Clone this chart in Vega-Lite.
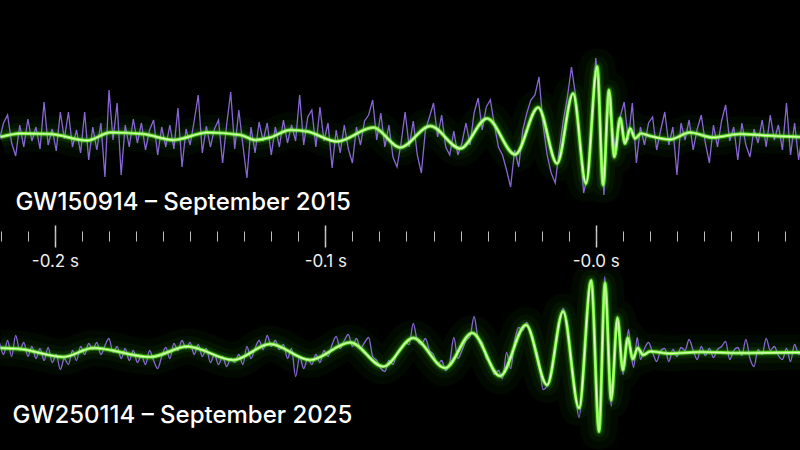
{
"$schema":"https://vega.github.io/schema/vega-lite/v6.json",
"background":"#000000","padding":0,"spacing":45,"bounds":"flush",
"config":{"view":{"stroke":null}},
"datasets":{
"topSig":[{"t":-0.2201,"h":-0.04},{"t":-0.2127,"h":0.03},{"t":-0.2017,"h":0.02},{"t":-0.1880,"h":-0.11},{"t":-0.1795,"h":0.05},{"t":-0.1673,"h":0.02},{"t":-0.1562,"h":-0.10},{"t":-0.1436,"h":0.05},{"t":-0.1314,"h":0},{"t":-0.1259,"h":-0.10},{"t":-0.1204,"h":-0.05},{"t":-0.1130,"h":0.10},{"t":-0.1067,"h":0.07},{"t":-0.0956,"h":-0.13},{"t":-0.0823,"h":0.15},{"t":-0.0723,"h":-0.25},{"t":-0.0612,"h":0.18},{"t":-0.0501,"h":-0.27},{"t":-0.0402,"h":0.33},{"t":-0.0298,"h":-0.39},{"t":-0.0213,"h":0.55},{"t":-0.0143,"h":-0.57},{"t":-0.0084,"h":0.83},{"t":-0.0036,"h":-0.97},{"t":0.0005,"h":1.37},{"t":0.0027,"h":-1.0},{"t":0.0049,"h":0.90},{"t":0.0068,"h":-0.44},{"t":0.0090,"h":0.34},{"t":0.0108,"h":-0.17},{"t":0.0127,"h":0.13},{"t":0.0145,"h":-0.07},{"t":0.0167,"h":0.03},{"t":0.0201,"h":-0.02},{"t":0.0275,"h":-0.09},{"t":0.0348,"h":0.05},{"t":0.0433,"h":-0.05},{"t":0.0533,"h":0.02},{"t":0.0626,"h":-0.01},{"t":0.0755,"h":-0.04}],
"botSig":[{"t":-0.2201,"h":0.09},{"t":-0.2127,"h":0.07},{"t":-0.1969,"h":-0.09},{"t":-0.1858,"h":0.09},{"t":-0.1647,"h":-0.09},{"t":-0.1510,"h":0.12},{"t":-0.1340,"h":-0.15},{"t":-0.1204,"h":0.17},{"t":-0.1056,"h":-0.15},{"t":-0.0908,"h":0.20},{"t":-0.0786,"h":-0.28},{"t":-0.0675,"h":0.29},{"t":-0.0557,"h":-0.31},{"t":-0.0457,"h":0.39},{"t":-0.0354,"h":-0.47},{"t":-0.0258,"h":0.55},{"t":-0.0180,"h":-0.65},{"t":-0.0121,"h":0.82},{"t":-0.0062,"h":-1.11},{"t":-0.0017,"h":1.44},{"t":0.0012,"h":-1.58},{"t":0.0034,"h":1.39},{"t":0.0057,"h":-0.95},{"t":0.0080,"h":0.69},{"t":0.0100,"h":-0.35},{"t":0.0118,"h":0.29},{"t":0.0137,"h":-0.13},{"t":0.0155,"h":0.09},{"t":0.0175,"h":-0.05},{"t":0.0201,"h":0.02},{"t":0.0275,"h":-0.02},{"t":0.0385,"h":0.01},{"t":0.0533,"h":-0.01},{"t":0.0755,"h":0}],
"topNoise":[{"t":-0.2205,"h":-0.10},{"t":-0.2190,"h":0.24},{"t":-0.2175,"h":0.40},{"t":-0.2160,"h":-0.16},{"t":-0.2145,"h":-0.42},{"t":-0.2130,"h":0.20},{"t":-0.2115,"h":-0.24},{"t":-0.2100,"h":0.32},{"t":-0.2085,"h":-0.12},{"t":-0.2070,"h":0.16},{"t":-0.2055,"h":-0.28},{"t":-0.2040,"h":0.66},{"t":-0.2025,"h":-0.20},{"t":-0.2010,"h":0.12},{"t":-0.1995,"h":-0.32},{"t":-0.1980,"h":0.46},{"t":-0.1965,"h":-0.08},{"t":-0.1950,"h":0.46},{"t":-0.1935,"h":-0.24},{"t":-0.1920,"h":0.10},{"t":-0.1905,"h":-0.36},{"t":-0.1890,"h":0.46},{"t":-0.1875,"h":-0.50},{"t":-0.1860,"h":0.16},{"t":-0.1845,"h":-0.30},{"t":-0.1830,"h":0.24},{"t":-0.1815,"h":-0.84},{"t":-0.1800,"h":0.90},{"t":-0.1785,"h":-0.10},{"t":-0.1770,"h":0.64},{"t":-0.1755,"h":-0.80},{"t":-0.1740,"h":0.20},{"t":-0.1725,"h":-0.24},{"t":-0.1710,"h":0.32},{"t":-0.1695,"h":-0.16},{"t":-0.1680,"h":0.24},{"t":-0.1665,"h":-0.30},{"t":-0.1650,"h":0.10},{"t":-0.1635,"h":0.30},{"t":-0.1620,"h":-0.40},{"t":-0.1605,"h":0.16},{"t":-0.1590,"h":-0.24},{"t":-0.1575,"h":0.20},{"t":-0.1560,"h":-0.28},{"t":-0.1545,"h":0.54},{"t":-0.1530,"h":-0.64},{"t":-0.1515,"h":0.12},{"t":-0.1500,"h":-0.20},{"t":-0.1485,"h":0.28},{"t":-0.1470,"h":0.80},{"t":-0.1455,"h":-0.36},{"t":-0.1440,"h":0.18},{"t":-0.1425,"h":-0.24},{"t":-0.1410,"h":0.12},{"t":-0.1395,"h":0.30},{"t":-0.1380,"h":-0.56},{"t":-0.1365,"h":0.20},{"t":-0.1350,"h":0.86},{"t":-0.1335,"h":-0.28},{"t":-0.1320,"h":0.50},{"t":-0.1305,"h":-0.20},{"t":-0.1290,"h":-0.86},{"t":-0.1275,"h":0.16},{"t":-0.1260,"h":-0.36},{"t":-0.1245,"h":0.26},{"t":-0.1230,"h":-0.12},{"t":-0.1215,"h":0.24},{"t":-0.1200,"h":-0.40},{"t":-0.1185,"h":0.16},{"t":-0.1170,"h":-0.24},{"t":-0.1155,"h":0.30},{"t":-0.1140,"h":-0.16},{"t":-0.1125,"h":0.20},{"t":-0.1110,"h":-0.12},{"t":-0.1095,"h":0.80},{"t":-0.1080,"h":-0.20},{"t":-0.1065,"h":0.36},{"t":-0.1050,"h":0.50},{"t":-0.1035,"h":-0.24},{"t":-0.1020,"h":0.56},{"t":-0.1005,"h":-0.12},{"t":-0.0990,"h":0.24},{"t":-0.0975,"h":-0.66},{"t":-0.0960,"h":0.10},{"t":-0.0945,"h":-0.36},{"t":-0.0930,"h":0.20},{"t":-0.0915,"h":-0.28},{"t":-0.0900,"h":-0.56},{"t":-0.0885,"h":0.16},{"t":-0.0870,"h":-0.20},{"t":-0.0855,"h":0.28},{"t":-0.0840,"h":0.40},{"t":-0.0825,"h":0.70},{"t":-0.0810,"h":-0.10},{"t":-0.0795,"h":0.44},{"t":-0.0780,"h":-0.24},{"t":-0.0765,"h":0.20},{"t":-0.0750,"h":-0.44},{"t":-0.0735,"h":-0.64},{"t":-0.0720,"h":-0.16},{"t":-0.0705,"h":0.46},{"t":-0.0690,"h":-0.24},{"t":-0.0675,"h":0.28},{"t":-0.0660,"h":-0.40},{"t":-0.0645,"h":-0.76},{"t":-0.0630,"h":0.10},{"t":-0.0615,"h":0.36},{"t":-0.0600,"h":0.64},{"t":-0.0585,"h":-0.04},{"t":-0.0570,"h":0.40},{"t":-0.0555,"h":-0.24},{"t":-0.0540,"h":-0.40},{"t":-0.0525,"h":0.08},{"t":-0.0510,"h":-0.40},{"t":-0.0495,"h":-0.16},{"t":-0.0480,"h":0.24},{"t":-0.0465,"h":-0.20},{"t":-0.0450,"h":0.44},{"t":-0.0435,"h":0.74},{"t":-0.0420,"h":0.10},{"t":-0.0405,"h":0.56},{"t":-0.0390,"h":0.70},{"t":-0.0375,"h":0.20},{"t":-0.0360,"h":-0.24},{"t":-0.0345,"h":-0.40},{"t":-0.0330,"h":-0.70},{"t":-0.0315,"h":-1.04},{"t":-0.0300,"h":-0.30},{"t":-0.0285,"h":-0.64},{"t":-0.0270,"h":0.10},{"t":-0.0255,"h":0.44},{"t":-0.0240,"h":0.70},{"t":-0.0225,"h":0.80},{"t":-0.0210,"h":1.16},{"t":-0.0195,"h":0.20},{"t":-0.0180,"h":-0.40},{"t":-0.0165,"h":-0.76},{"t":-0.0150,"h":-0.96},{"t":-0.0135,"h":-0.30},{"t":-0.0120,"h":0.30},{"t":-0.0105,"h":0.76},{"t":-0.0090,"h":1.36},{"t":-0.0075,"h":0.80},{"t":-0.0060,"h":-0.10},{"t":-0.0045,"h":-1.16},{"t":-0.0030,"h":-0.80},{"t":-0.0015,"h":0.30},{"t":0.0000,"h":1.54},{"t":0.0015,"h":0.50},{"t":0.0030,"h":-1.20},{"t":0.0045,"h":0.60},{"t":0.0060,"h":0.20},{"t":0.0075,"h":-0.40},{"t":0.0090,"h":0.36},{"t":0.0105,"h":0.66},{"t":0.0120,"h":-0.10},{"t":0.0135,"h":0.64},{"t":0.0150,"h":-0.56},{"t":0.0165,"h":0.16},{"t":0.0180,"h":-0.20},{"t":0.0195,"h":0.24},{"t":0.0210,"h":0.36},{"t":0.0225,"h":-0.30},{"t":0.0240,"h":0.10},{"t":0.0255,"h":0.46},{"t":0.0270,"h":-0.20},{"t":0.0285,"h":0.16},{"t":0.0300,"h":-0.80},{"t":0.0315,"h":0.24},{"t":0.0330,"h":-0.10},{"t":0.0345,"h":0.30},{"t":0.0360,"h":-0.30},{"t":0.0375,"h":0.12},{"t":0.0390,"h":0.40},{"t":0.0405,"h":-0.16},{"t":0.0420,"h":-0.56},{"t":0.0435,"h":0.20},{"t":0.0450,"h":-0.24},{"t":0.0465,"h":0.28},{"t":0.0480,"h":0.60},{"t":0.0495,"h":-0.12},{"t":0.0510,"h":0.16},{"t":0.0525,"h":-0.50},{"t":0.0540,"h":0.24},{"t":0.0555,"h":-0.20},{"t":0.0570,"h":-0.44},{"t":0.0585,"h":0.12},{"t":0.0600,"h":-0.16},{"t":0.0615,"h":0.30},{"t":0.0630,"h":-0.24},{"t":0.0645,"h":0.40},{"t":0.0660,"h":-0.10},{"t":0.0675,"h":0.20},{"t":0.0690,"h":-0.30},{"t":0.0705,"h":0.64},{"t":0.0720,"h":-0.40},{"t":0.0735,"h":0.24},{"t":0.0750,"h":-0.50},{"t":0.0765,"h":0.10}],
"botNoise":[{"t":-0.2205,"h":0.20},{"t":-0.2190,"h":-0.04},{"t":-0.2175,"h":0.24},{"t":-0.2160,"h":-0.08},{"t":-0.2145,"h":0.34},{"t":-0.2130,"h":0.04},{"t":-0.2115,"h":0.20},{"t":-0.2100,"h":-0.08},{"t":-0.2085,"h":0.12},{"t":-0.2070,"h":-0.12},{"t":-0.2055,"h":0.08},{"t":-0.2040,"h":-0.16},{"t":-0.2025,"h":0.10},{"t":-0.2010,"h":-0.20},{"t":-0.1995,"h":-0.04},{"t":-0.1980,"h":-0.34},{"t":-0.1965,"h":-0.12},{"t":-0.1950,"h":-0.24},{"t":-0.1935,"h":0.04},{"t":-0.1920,"h":-0.16},{"t":-0.1905,"h":0.12},{"t":-0.1890,"h":-0.04},{"t":-0.1875,"h":0.18},{"t":-0.1860,"h":0.06},{"t":-0.1845,"h":0.20},{"t":-0.1830,"h":-0.04},{"t":-0.1815,"h":0.14},{"t":-0.1800,"h":0.28},{"t":-0.1785,"h":0.00},{"t":-0.1770,"h":0.12},{"t":-0.1755,"h":-0.12},{"t":-0.1740,"h":0.08},{"t":-0.1725,"h":-0.16},{"t":-0.1710,"h":0.04},{"t":-0.1695,"h":-0.20},{"t":-0.1680,"h":-0.06},{"t":-0.1665,"h":-0.24},{"t":-0.1650,"h":0.04},{"t":-0.1635,"h":-0.16},{"t":-0.1620,"h":-0.32},{"t":-0.1605,"h":-0.08},{"t":-0.1590,"h":0.10},{"t":-0.1575,"h":-0.12},{"t":-0.1560,"h":0.18},{"t":-0.1545,"h":0.04},{"t":-0.1530,"h":0.24},{"t":-0.1515,"h":0.08},{"t":-0.1500,"h":0.20},{"t":-0.1485,"h":-0.04},{"t":-0.1470,"h":0.16},{"t":-0.1455,"h":-0.08},{"t":-0.1440,"h":0.08},{"t":-0.1425,"h":-0.20},{"t":-0.1410,"h":-0.04},{"t":-0.1395,"h":-0.24},{"t":-0.1380,"h":-0.08},{"t":-0.1365,"h":-0.28},{"t":-0.1350,"h":-0.12},{"t":-0.1335,"h":-0.20},{"t":-0.1320,"h":-0.04},{"t":-0.1305,"h":-0.24},{"t":-0.1290,"h":0.12},{"t":-0.1275,"h":-0.12},{"t":-0.1260,"h":0.08},{"t":-0.1245,"h":0.24},{"t":-0.1230,"h":0.06},{"t":-0.1215,"h":0.34},{"t":-0.1200,"h":0.12},{"t":-0.1185,"h":0.24},{"t":-0.1170,"h":0.06},{"t":-0.1155,"h":0.16},{"t":-0.1140,"h":-0.12},{"t":-0.1125,"h":0.08},{"t":-0.1110,"h":-0.48},{"t":-0.1095,"h":-0.08},{"t":-0.1080,"h":-0.32},{"t":-0.1065,"h":-0.12},{"t":-0.1050,"h":-0.24},{"t":-0.1035,"h":-0.04},{"t":-0.1020,"h":-0.20},{"t":-0.1005,"h":0.04},{"t":-0.0990,"h":-0.08},{"t":-0.0975,"h":0.16},{"t":-0.0960,"h":0.32},{"t":-0.0945,"h":0.08},{"t":-0.0930,"h":0.24},{"t":-0.0915,"h":0.36},{"t":-0.0900,"h":0.12},{"t":-0.0885,"h":0.28},{"t":-0.0870,"h":0.08},{"t":-0.0855,"h":0.20},{"t":-0.0840,"h":0.30},{"t":-0.0825,"h":-0.08},{"t":-0.0810,"h":-0.16},{"t":-0.0795,"h":-0.32},{"t":-0.0780,"h":-0.38},{"t":-0.0765,"h":-0.16},{"t":-0.0750,"h":-0.24},{"t":-0.0735,"h":0.00},{"t":-0.0720,"h":0.08},{"t":-0.0705,"h":0.20},{"t":-0.0690,"h":0.16},{"t":-0.0675,"h":0.58},{"t":-0.0660,"h":0.24},{"t":-0.0645,"h":0.16},{"t":-0.0630,"h":0.28},{"t":-0.0615,"h":0.04},{"t":-0.0600,"h":-0.04},{"t":-0.0585,"h":-0.24},{"t":-0.0570,"h":-0.16},{"t":-0.0555,"h":-0.36},{"t":-0.0540,"h":-0.20},{"t":-0.0525,"h":0.30},{"t":-0.0510,"h":-0.12},{"t":-0.0495,"h":0.04},{"t":-0.0480,"h":0.24},{"t":-0.0465,"h":0.32},{"t":-0.0450,"h":0.72},{"t":-0.0435,"h":0.28},{"t":-0.0420,"h":0.20},{"t":-0.0405,"h":-0.12},{"t":-0.0390,"h":-0.20},{"t":-0.0375,"h":-0.44},{"t":-0.0360,"h":-0.36},{"t":-0.0345,"h":-0.52},{"t":-0.0330,"h":0.00},{"t":-0.0315,"h":-0.32},{"t":-0.0300,"h":0.24},{"t":-0.0285,"h":0.50},{"t":-0.0270,"h":0.44},{"t":-0.0255,"h":0.60},{"t":-0.0240,"h":0.36},{"t":-0.0225,"h":0.12},{"t":-0.0210,"h":-0.16},{"t":-0.0195,"h":-0.74},{"t":-0.0180,"h":-0.66},{"t":-0.0165,"h":-0.40},{"t":-0.0150,"h":0.10},{"t":-0.0136,"h":0.56},{"t":-0.0121,"h":0.88},{"t":-0.0106,"h":0.56},{"t":-0.0091,"h":-0.20},{"t":-0.0076,"h":-0.80},{"t":-0.0062,"h":-1.30},{"t":-0.0047,"h":-0.50},{"t":-0.0032,"h":0.80},{"t":-0.0017,"h":1.44},{"t":-0.0003,"h":0.10},{"t":0.0012,"h":-1.60},{"t":0.0023,"h":-0.20},{"t":0.0033,"h":1.52},{"t":0.0045,"h":0.20},{"t":0.0057,"h":-1.08},{"t":0.0068,"h":-0.10},{"t":0.0079,"h":0.72},{"t":0.0090,"h":0.16},{"t":0.0101,"h":-0.44},{"t":0.0112,"h":0.04},{"t":0.0121,"h":0.46},{"t":0.0130,"h":0.00},{"t":0.0140,"h":-0.30},{"t":0.0153,"h":0.30},{"t":0.0165,"h":-0.14},{"t":0.0180,"h":0.08},{"t":0.0195,"h":0.20},{"t":0.0210,"h":0.00},{"t":0.0225,"h":-0.18},{"t":0.0240,"h":0.04},{"t":0.0255,"h":0.08},{"t":0.0270,"h":-0.18},{"t":0.0285,"h":0.06},{"t":0.0300,"h":-0.08},{"t":0.0315,"h":0.10},{"t":0.0330,"h":0.04},{"t":0.0345,"h":0.26},{"t":0.0360,"h":0.04},{"t":0.0375,"h":-0.14},{"t":0.0390,"h":0.12},{"t":0.0405,"h":-0.06},{"t":0.0420,"h":0.08},{"t":0.0435,"h":-0.10},{"t":0.0450,"h":0.06},{"t":0.0465,"h":0.12},{"t":0.0480,"h":0.22},{"t":0.0495,"h":-0.14},{"t":0.0510,"h":0.04},{"t":0.0525,"h":0.10},{"t":0.0540,"h":-0.06},{"t":0.0555,"h":0.26},{"t":0.0570,"h":-0.12},{"t":0.0585,"h":-0.28},{"t":0.0600,"h":0.06},{"t":0.0615,"h":-0.04},{"t":0.0630,"h":0.28},{"t":0.0645,"h":0.04},{"t":0.0660,"h":0.12},{"t":0.0675,"h":-0.06},{"t":0.0690,"h":-0.14},{"t":0.0705,"h":0.08},{"t":0.0720,"h":-0.18},{"t":0.0735,"h":0.16},{"t":0.0750,"h":-0.04},{"t":0.0765,"h":0.06}]
},
"vconcat":[
{
"width":800,"height":225,
"encoding":{
"x":{"field":"t","type":"quantitative","scale":{"domain":[-0.2203,0.0755],"nice":false,"zero":false},"axis":null},
"y":{"field":"h","type":"quantitative","scale":{"domain":[-1.8,2.7],"nice":false,"zero":false},"axis":null}
},
"layer":[
{"data":{"name":"topSig"},"mark":{"type":"line","interpolate":"monotone","clip":true,"color":"#2fd010","strokeWidth":36,"opacity":0.045}},
{"data":{"name":"topSig"},"mark":{"type":"line","interpolate":"monotone","clip":true,"color":"#2fd010","strokeWidth":21,"opacity":0.06}},
{"data":{"name":"topSig"},"mark":{"type":"line","interpolate":"monotone","clip":true,"color":"#3ee015","strokeWidth":11,"opacity":0.1}},
{"data":{"name":"topNoise"},"mark":{"type":"line","clip":true,"color":"#8f6ce0","strokeWidth":1.3,"opacity":0.95},
"encoding":{"x":{"field":"t","type":"quantitative","scale":{"domain":[-0.2203,0.0755],"nice":false,"zero":false},
"axis":{"orient":"bottom","values":[-0.2,-0.1,0],"domain":false,"grid":false,"tickSize":22,"tickWidth":1.5,"tickColor":"#d0d0d0","labelExpr":"'-' + format(abs(datum.value), '.1f') + ' s'","labelColor":"#eeeeee","labelFont":"Inter","labelFontSize":17,"labelPadding":6,"labelFlush":false,"labelOverlap":false,"title":null}}}},
{"data":{"name":"topSig"},"mark":{"type":"line","interpolate":"monotone","clip":true,"color":"#4ef01c","strokeWidth":5.5,"opacity":0.3}},
{"data":{"name":"topSig"},"mark":{"type":"line","interpolate":"monotone","clip":true,"color":"#86ff48","strokeWidth":3,"opacity":0.95},
"encoding":{"x":{"field":"t","type":"quantitative","scale":{"domain":[-0.2203,0.0755],"nice":false,"zero":false},
"axis":{"orient":"bottom","values":[-0.22,-0.21,-0.2,-0.19,-0.18,-0.17,-0.16,-0.15,-0.14,-0.13,-0.12,-0.11,-0.1,-0.09,-0.08,-0.07,-0.06,-0.05,-0.04,-0.03,-0.02,-0.01,0,0.01,0.02,0.03,0.04,0.05,0.06,0.07],"domain":false,"grid":false,"labels":false,"tickSize":10,"tickWidth":1,"tickColor":"#bdbdbd","offset":6,"title":null}}}},
{"data":{"name":"topSig"},"mark":{"type":"line","interpolate":"monotone","clip":true,"color":"#e0ffc4","strokeWidth":1.2}},
{"data":{"values":[{"label":"GW150914 – September 2015","t":-0.2146,"h":-1.35}]},"mark":{"type":"text","align":"left","baseline":"middle","font":"Inter","fontSize":24,"fontWeight":500,"color":"#ffffff"},"encoding":{"text":{"field":"label"}}}
],
"resolve":{"axis":{"x":"independent"}}
},
{
"width":800,"height":180,
"encoding":{
"x":{"field":"t","type":"quantitative","scale":{"domain":[-0.2203,0.0755],"nice":false,"zero":false},"axis":null},
"y":{"field":"h","type":"quantitative","scale":{"domain":[-1.95,1.65],"nice":false,"zero":false},"axis":null}
},
"layer":[
{"data":{"name":"botSig"},"mark":{"type":"line","interpolate":"monotone","clip":true,"color":"#2fd010","strokeWidth":36,"opacity":0.045}},
{"data":{"name":"botSig"},"mark":{"type":"line","interpolate":"monotone","clip":true,"color":"#2fd010","strokeWidth":21,"opacity":0.06}},
{"data":{"name":"botSig"},"mark":{"type":"line","interpolate":"monotone","clip":true,"color":"#3ee015","strokeWidth":11,"opacity":0.1}},
{"data":{"name":"botNoise"},"mark":{"type":"line","interpolate":"monotone","clip":true,"color":"#8f6ce0","strokeWidth":1.3,"opacity":0.95}},
{"data":{"name":"botSig"},"mark":{"type":"line","interpolate":"monotone","clip":true,"color":"#4ef01c","strokeWidth":5.5,"opacity":0.3}},
{"data":{"name":"botSig"},"mark":{"type":"line","interpolate":"monotone","clip":true,"color":"#86ff48","strokeWidth":3,"opacity":0.95}},
{"data":{"name":"botSig"},"mark":{"type":"line","interpolate":"monotone","clip":true,"color":"#e0ffc4","strokeWidth":1.2}},
{"data":{"values":[{"label":"GW250114 – September 2025","t":-0.2157,"h":-1.26}]},"mark":{"type":"text","align":"left","baseline":"middle","font":"Inter","fontSize":24,"fontWeight":500,"color":"#ffffff"},"encoding":{"text":{"field":"label"}}}
]
}
]
}
